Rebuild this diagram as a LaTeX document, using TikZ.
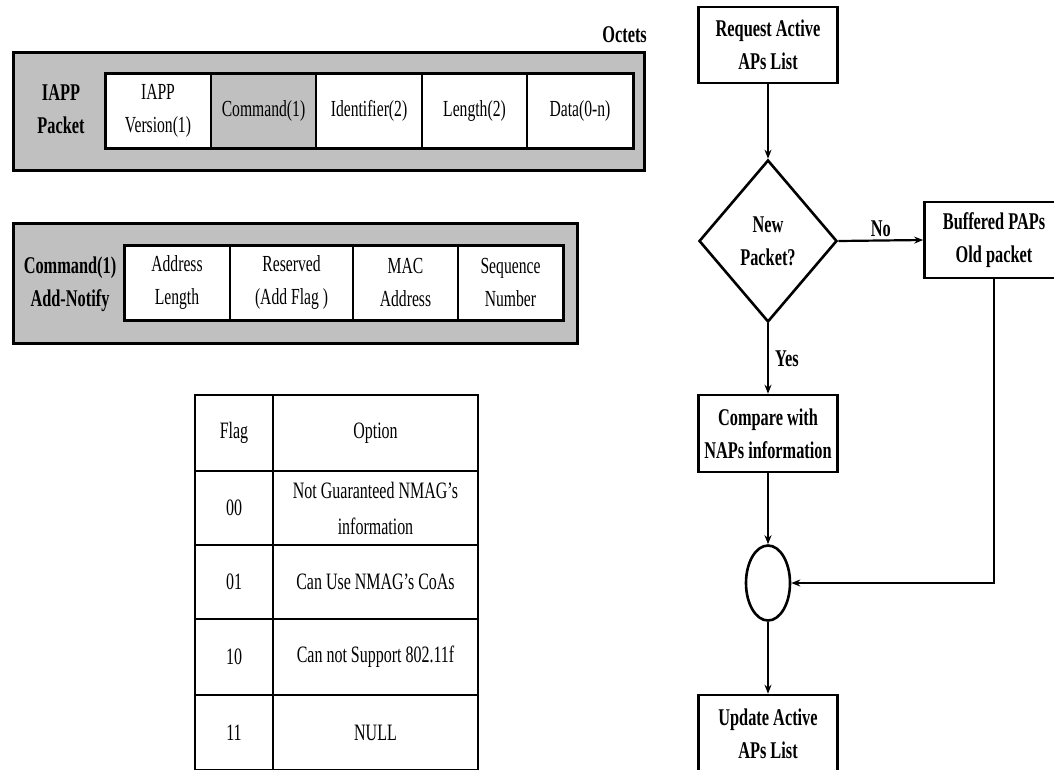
\documentclass[tikz,border=0pt]{standalone}
\usepackage{fontspec}
\setmainfont{Liberation Serif}[FakeStretch=0.68]
\usetikzlibrary{shapes.geometric,arrows.meta}
\definecolor{pgray}{HTML}{C0C0C0}
\begin{document}
\begin{tikzpicture}[x=1pt,y=-1pt,
  txt/.style={font=\fontsize{23}{33}\selectfont, align=center, inner sep=0pt},
  ttxt/.style={font=\fontsize{23.5}{36}\selectfont, align=center, inner sep=0pt},
  btxt/.style={font=\fontsize{24}{33}\selectfont\bfseries, align=center, inner sep=0pt},
  outerbox/.style={draw=black, fill=pgray, line width=3pt, inner sep=0pt},
  rowframe/.style={draw=black, line width=3pt, inner sep=0pt},
  cell/.style={draw=black, fill=white, line width=1.6pt, inner sep=0pt, txt},
  gcell/.style={cell, fill=pgray},
  tcell/.style={draw=black, line width=2.4pt, inner sep=0pt, ttxt},
  fbox/.style={draw=black, fill=white, line width=2.6pt, inner sep=0pt, btxt, minimum width=139pt, minimum height=76pt},
  flow/.style={draw=black, line width=2.2pt, -{Stealth[length=9pt,width=7pt]}}
]
\useasboundingbox (0,0) rectangle (1054,769);
\clip (0,0) rectangle (1054,769);

% ---------- IAPP packet ----------
\node[btxt, anchor=east] (oct) at (647,35) {Octets};
\node[outerbox, minimum width=631pt, minimum height=118pt] (p1) at (328.5,111) {};
\node[btxt] (p1lab) at (61,109) {IAPP\\Packet};
\node[cell, minimum width=106pt, minimum height=75pt] (c11) at (158,110.5) {IAPP\\Version(1)};
\node[gcell, minimum width=105pt, minimum height=75pt] (c12) at (263.5,110.5) {Command(1)};
\node[cell, minimum width=106pt, minimum height=75pt] (c13) at (369,110.5) {Identifier(2)};
\node[cell, minimum width=105pt, minimum height=75pt] (c14) at (474.5,110.5) {Length(2)};
\node[cell, minimum width=106pt, minimum height=75pt] (c15) at (580,110.5) {Data(0-n)};
\node[rowframe, minimum width=528pt, minimum height=75pt] (r1) at (369,110.5) {};

% ---------- Command(1) Add-Notify ----------
\node[outerbox, minimum width=564pt, minimum height=120pt] (p2) at (295,283) {};
\node[btxt] (p2lab) at (70,284) {Command(1)\\Add-Notify};
\node[cell, minimum width=106pt, minimum height=75pt] (c21) at (177,282.5) {Address\\Length};
\node[cell, minimum width=123pt, minimum height=75pt] (c22) at (291.5,282.5) {Reserved\\(Add Flag )};
\node[cell, minimum width=105pt, minimum height=75pt] (c23) at (405.5,282.5) {MAC\\Address};
\node[cell, minimum width=105pt, minimum height=75pt] (c24) at (510.5,282.5) {Sequence\\Number};
\node[rowframe, minimum width=439pt, minimum height=75pt] (r2) at (343.5,282.5) {};

% ---------- Flag table ----------
\node[tcell, minimum width=78pt, minimum height=76pt] (f0) at (234,433) {Flag};
\node[tcell, minimum width=205pt, minimum height=76pt] (o0) at (375.5,433) {Option};
\node[tcell, minimum width=78pt, minimum height=74pt] (f1) at (234,508) {00};
\node[tcell, minimum width=205pt, minimum height=74pt] (o1) at (375.5,508) {Not Guaranteed NMAG’s\\information};
\node[tcell, minimum width=78pt, minimum height=74pt] (f2) at (234,582) {01};
\node[tcell, minimum width=205pt, minimum height=74pt] (o2) at (375.5,582) {Can Use NMAG’s CoAs};
\node[tcell, minimum width=78pt, minimum height=76pt] (f3) at (234,657) {10};
\node[tcell, minimum width=205pt, minimum height=76pt] (o3) at (375.5,657) {Can not Support 802.11f};
\node[tcell, minimum width=78pt, minimum height=75pt] (f4) at (234,732.5) {11};
\node[tcell, minimum width=205pt, minimum height=75pt] (o4) at (375.5,732.5) {NULL};

% ---------- Flowchart ----------
\node[fbox] (req) at (768,45) {Request Active\\APs List};
\node[draw=black, fill=white, line width=2.6pt, shape=diamond, aspect=0.85,
      minimum width=138pt, minimum height=162pt, inner sep=0pt, btxt] (dec) at (768,241) {New\\Packet?};
\node[fbox] (buf) at (994,240) {Buffered PAPs\\Old packet};
\node[fbox, minimum height=77pt] (cmp) at (768,433.5) {Compare with\\NAPs information};
\node[draw=black, fill=white, line width=2.6pt, ellipse, minimum width=44pt, minimum height=75pt, inner sep=0pt] (join) at (768,583) {};
\node[fbox, minimum height=78pt] (upd) at (768,734) {Update Active\\APs List};
\coordinate (bend) at (buf.south |- join.east);

\draw[flow] (req.south) -- (dec.north);
\draw[flow] (dec.east) -- node[btxt, above=3pt] {No} (buf.west);
\draw[flow] (dec.south) -- node[btxt, right=6pt] {Yes} (cmp.north);
\draw[flow] (cmp.south) -- (join.north);
\draw[flow] (buf.south) -- (bend) -- (join.east);
\draw[flow] (join.south) -- (upd.north);
\end{tikzpicture}
\end{document}
